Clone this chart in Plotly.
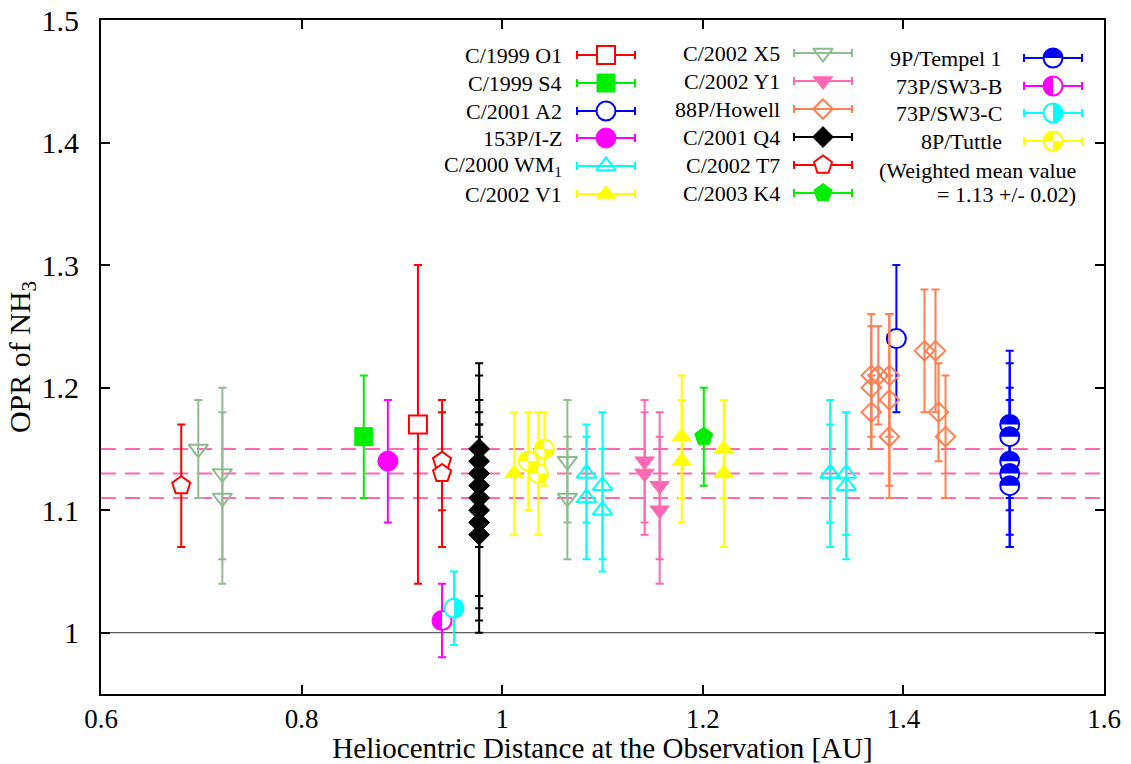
import math
import plotly.graph_objects as go

FONT = "Times New Roman, Liberation Serif, DejaVu Serif, serif"

# ---------------- data: heliocentric distance [AU], OPR, 1-sigma error ----------------
O1_x = [0.916]
O1_y = [1.17]
O1_e = [0.13]

S4_x = [0.862]
S4_y = [1.16]
S4_e = [0.05]

A2_x = [1.393]
A2_y = [1.24]
A2_e = [0.06]

IZ_x = [0.886]
IZ_y = [1.14]
IZ_e = [0.05]

WM1_x = [1.084, 1.084, 1.100, 1.100, 1.327, 1.327, 1.343, 1.343]
WM1_y = [1.13, 1.11, 1.12, 1.10, 1.13, 1.13, 1.13, 1.12]
WM1_e = [0.04, 0.05, 0.06, 0.05, 0.06, 0.04, 0.05, 0.06]

V1_x = [1.012, 1.179, 1.179, 1.221, 1.221]
V1_y = [1.13, 1.16, 1.14, 1.15, 1.13]
V1_e = [0.05, 0.05, 0.05, 0.04, 0.06]

X5_x = [0.697, 0.721, 0.721, 1.065, 1.065]
X5_y = [1.15, 1.13, 1.11, 1.14, 1.11]
X5_e = [0.04, 0.07, 0.07, 0.05, 0.05]

Y1_x = [1.142, 1.142, 1.157, 1.157]
Y1_y = [1.14, 1.13, 1.12, 1.10]
Y1_e = [0.05, 0.05, 0.06, 0.06]

HOW_x = [1.368, 1.368, 1.368, 1.375, 1.386, 1.386, 1.386, 1.421, 1.432, 1.435, 1.442]
HOW_y = [1.21, 1.20, 1.18, 1.21, 1.21, 1.19, 1.16, 1.23, 1.23, 1.18, 1.16]
HOW_e = [0.05, 0.05, 0.03, 0.04, 0.05, 0.07, 0.05, 0.05, 0.05, 0.04, 0.05]

Q4_x = [0.977, 0.977, 0.977, 0.977, 0.977, 0.977, 0.977, 0.977]
Q4_y = [1.15, 1.14, 1.13, 1.12, 1.11, 1.10, 1.09, 1.08]
Q4_e = [0.07, 0.07, 0.06, 0.05, 0.08, 0.08, 0.08, 0.08]

T7_x = [0.680, 0.940, 0.940]
T7_y = [1.12, 1.14, 1.13]
T7_e = [0.05, 0.04, 0.06]

K4_x = [1.201]
K4_y = [1.16]
K4_e = [0.04]

TEM_x = [1.506, 1.506, 1.506, 1.506, 1.506]
TEM_y = [1.17, 1.16, 1.14, 1.13, 1.12]
TEM_e = [0.06, 0.06, 0.06, 0.06, 0.05]

SWB_x = [0.940]
SWB_y = [1.01]
SWB_e = [0.03]

SWC_x = [0.952]
SWC_y = [1.02]
SWC_e = [0.03]

TUT_x = [1.026, 1.036, 1.042]
TUT_y = [1.14, 1.13, 1.15]
TUT_e = [0.04, 0.05, 0.03]

MEAN_OPR = 1.13
MEAN_ERR = 0.02

X_RANGE = [0.6, 1.6]
Y_RANGE = [0.95, 1.5]
X_TICKS = [0.6, 0.8, 1.0, 1.2, 1.4, 1.6]
Y_TICKS = [1.0, 1.1, 1.2, 1.3, 1.4, 1.5]

# ---------------- styles ----------------
# name, data, symbol, colour, fill mode ('solid', 'white', 'open'), size, partial fills
SERIES = [
    ("C/1999 O1", (O1_x, O1_y, O1_e), "square", "#ff0000", "white", 18, None),
    ("C/1999 S4", (S4_x, S4_y, S4_e), "square", "#00ee00", "solid", 18, None),
    ("C/2001 A2", (A2_x, A2_y, A2_e), "circle", "#0000ff", "white", 19, None),
    ("153P/I-Z", (IZ_x, IZ_y, IZ_e), "circle", "#ff00ff", "solid", 20, None),
    ("C/2000 WM<sub>1</sub>", (WM1_x, WM1_y, WM1_e), "triangle-up-open", "#00ffff", "open", 17, None),
    ("C/2002 V1", (V1_x, V1_y, V1_e), "triangle-up", "#ffff00", "solid", 17, None),
    ("C/2002 X5", (X5_x, X5_y, X5_e), "triangle-down-open", "#8fbc8f", "open", 17, None),
    ("C/2002 Y1", (Y1_x, Y1_y, Y1_e), "triangle-down", "#ff69b4", "solid", 17, None),
    ("88P/Howell", (HOW_x, HOW_y, HOW_e), "diamond-open", "#ff7f50", "open", 15, None),
    ("C/2001 Q4", (Q4_x, Q4_y, Q4_e), "diamond", "#000000", "solid", 16, None),
    ("C/2002 T7", (T7_x, T7_y, T7_e), "pentagon", "#ff0000", "white", 19, None),
    ("C/2003 K4", (K4_x, K4_y, K4_e), "pentagon", "#00ee00", "solid", 19, None),
    ("9P/Tempel 1", (TEM_x, TEM_y, TEM_e), "circle", "#0000ff", "white", 19, [(0, 180)]),
    ("73P/SW3-B", (SWB_x, SWB_y, SWB_e), "circle", "#ff00ff", "white", 19, [(90, 270)]),
    ("73P/SW3-C", (SWC_x, SWC_y, SWC_e), "circle", "#00ffff", "white", 19, [(-90, 90)]),
    ("8P/Tuttle", (TUT_x, TUT_y, TUT_e), "circle", "#ffff00", "white", 19, [(90, 180), (270, 360)]),
]

# legend layout in pixel units of the plotting area: (text right edge, glyph centre, row y)
LEGEND_COLUMNS = [
    (564, 606, [55, 83, 111, 138, 166, 194]),
    (782, 823, [53, 81, 109, 137, 165, 193]),
    (1004, 1053, [58, 86, 113, 141]),
]
NOTE_LINES = ["(Weighted mean value", "= 1.13 +/- 0.02)"]
NOTE_ROWS = [170, 194]
NOTE_RIGHT = 1078
LEGEND_FONT_SIZE = 22

PLOT_L, PLOT_R, PLOT_T, PLOT_B = 101, 1104, 20, 694


def wedge_path(radius, a0, a1, n=24):
    """Filled circular sector (pixel offsets, y upward) from angle a0 to a1 in degrees."""
    pts = ["M0,0"]
    for i in range(n + 1):
        a = math.radians(a0 + (a1 - a0) * i / n)
        pts.append(f"L{radius * math.cos(a):.2f},{radius * math.sin(a):.2f}")
    pts.append("Z")
    return " ".join(pts)


def marker_style(symbol, color, fill, size):
    if fill == "solid":
        return dict(symbol=symbol, size=size, color=color, line=dict(color=color, width=1))
    if fill == "white":
        return dict(symbol=symbol, size=size, color="white", line=dict(color=color, width=2))
    return dict(symbol=symbol, size=size, color=color, line=dict(color=color, width=2))


fig = go.Figure()
shapes = []

# reference lines: weighted mean +/- error and OPR = 1
for yv in (MEAN_OPR + MEAN_ERR, MEAN_OPR, MEAN_OPR - MEAN_ERR):
    shapes.append(dict(type="line", xref="paper", yref="y", x0=0, x1=1, y0=yv, y1=yv,
                       line=dict(color="#ff69b4", width=2, dash="15px,9px"), layer="below"))
shapes.append(dict(type="line", xref="paper", yref="y", x0=0, x1=1, y0=1.0, y1=1.0,
                   line=dict(color="#333333", width=1), layer="below"))

# data points with error bars
for name, (xs, ys, es), symbol, color, fill, size, parts in SERIES:
    fig.add_trace(go.Scatter(
        x=xs, y=ys, mode="markers", name=name,
        marker=marker_style(symbol, color, fill, size),
        error_y=dict(type="data", array=es, symmetric=True, color=color,
                     thickness=2, width=4),
        hoverinfo="x+y",
    ))
    if parts:
        for xv, yv in zip(xs, ys):
            for a0, a1 in parts:
                shapes.append(dict(type="path", xref="x", yref="y",
                                   xsizemode="pixel", ysizemode="pixel",
                                   xanchor=xv, yanchor=yv,
                                   path=wedge_path(size / 2, a0, a1),
                                   fillcolor=color, line=dict(width=0), layer="above"))

# legend, drawn on an overlay axis measured in pixels of the plotting area
annotations = []
legend_slots = []
for text_right, glyph_x, rows in LEGEND_COLUMNS:
    for row in rows:
        legend_slots.append((text_right, glyph_x, row))

for (name, _, symbol, color, fill, size, parts), (text_right, gx, gy) in zip(SERIES, legend_slots):
    fig.add_trace(go.Scatter(
        x=[gx], y=[gy], xaxis="x2", yaxis="y2", mode="markers",
        marker=marker_style(symbol, color, fill, size),
        error_x=dict(type="data", array=[29], symmetric=True, color=color,
                     thickness=2, width=4),
        hoverinfo="skip",
    ))
    if parts:
        for a0, a1 in parts:
            shapes.append(dict(type="path", xref="x2", yref="y2",
                               xsizemode="pixel", ysizemode="pixel",
                               xanchor=gx, yanchor=gy,
                               path=wedge_path(size / 2, a0, a1),
                               fillcolor=color, line=dict(width=0), layer="above"))
    annotations.append(dict(x=text_right, y=gy, xref="x2", yref="y2", text=name,
                            showarrow=False, xanchor="right", yanchor="middle",
                            font=dict(family=FONT, size=LEGEND_FONT_SIZE, color="black")))

for line, row in zip(NOTE_LINES, NOTE_ROWS):
    annotations.append(dict(x=NOTE_RIGHT, y=row, xref="x2", yref="y2", text=line,
                            showarrow=False, xanchor="right", yanchor="middle",
                            font=dict(family=FONT, size=LEGEND_FONT_SIZE, color="black")))

axis_common = dict(
    showline=True, linecolor="black", linewidth=2, mirror="ticks",
    ticks="inside", ticklen=9, tickwidth=1.5, tickcolor="black",
    showgrid=False, zeroline=False, automargin=False,
)

fig.update_layout(
    width=1131, height=764,
    margin=dict(l=PLOT_L, r=1131 - PLOT_R, t=PLOT_T, b=764 - PLOT_B, autoexpand=False),
    paper_bgcolor="white", plot_bgcolor="white",
    showlegend=False,
    font=dict(family=FONT),
    xaxis=dict(range=X_RANGE, tickvals=X_TICKS, ticktext=[f"{v:g}" for v in X_TICKS],
               ticklabelstandoff=0,
               tickfont=dict(family=FONT, size=27, color="black"),
               title=dict(text="Heliocentric Distance at the Observation [AU]",
                          font=dict(family=FONT, size=29, color="black"), standoff=3),
               **axis_common),
    yaxis=dict(range=Y_RANGE, tickvals=Y_TICKS, ticktext=[f"{v:g}" for v in Y_TICKS],
               ticklabelstandoff=14,
               tickfont=dict(family=FONT, size=30, color="black"),
               title=dict(text="OPR of NH<sub>3</sub>",
                          font=dict(family=FONT, size=30, color="black"), standoff=2),
               **axis_common),
    xaxis2=dict(overlaying="x", range=[PLOT_L, PLOT_R], visible=False, fixedrange=True),
    yaxis2=dict(overlaying="y", range=[PLOT_B, PLOT_T], visible=False, fixedrange=True),
    shapes=shapes,
    annotations=annotations,
)

fig.write_html("out.html")
